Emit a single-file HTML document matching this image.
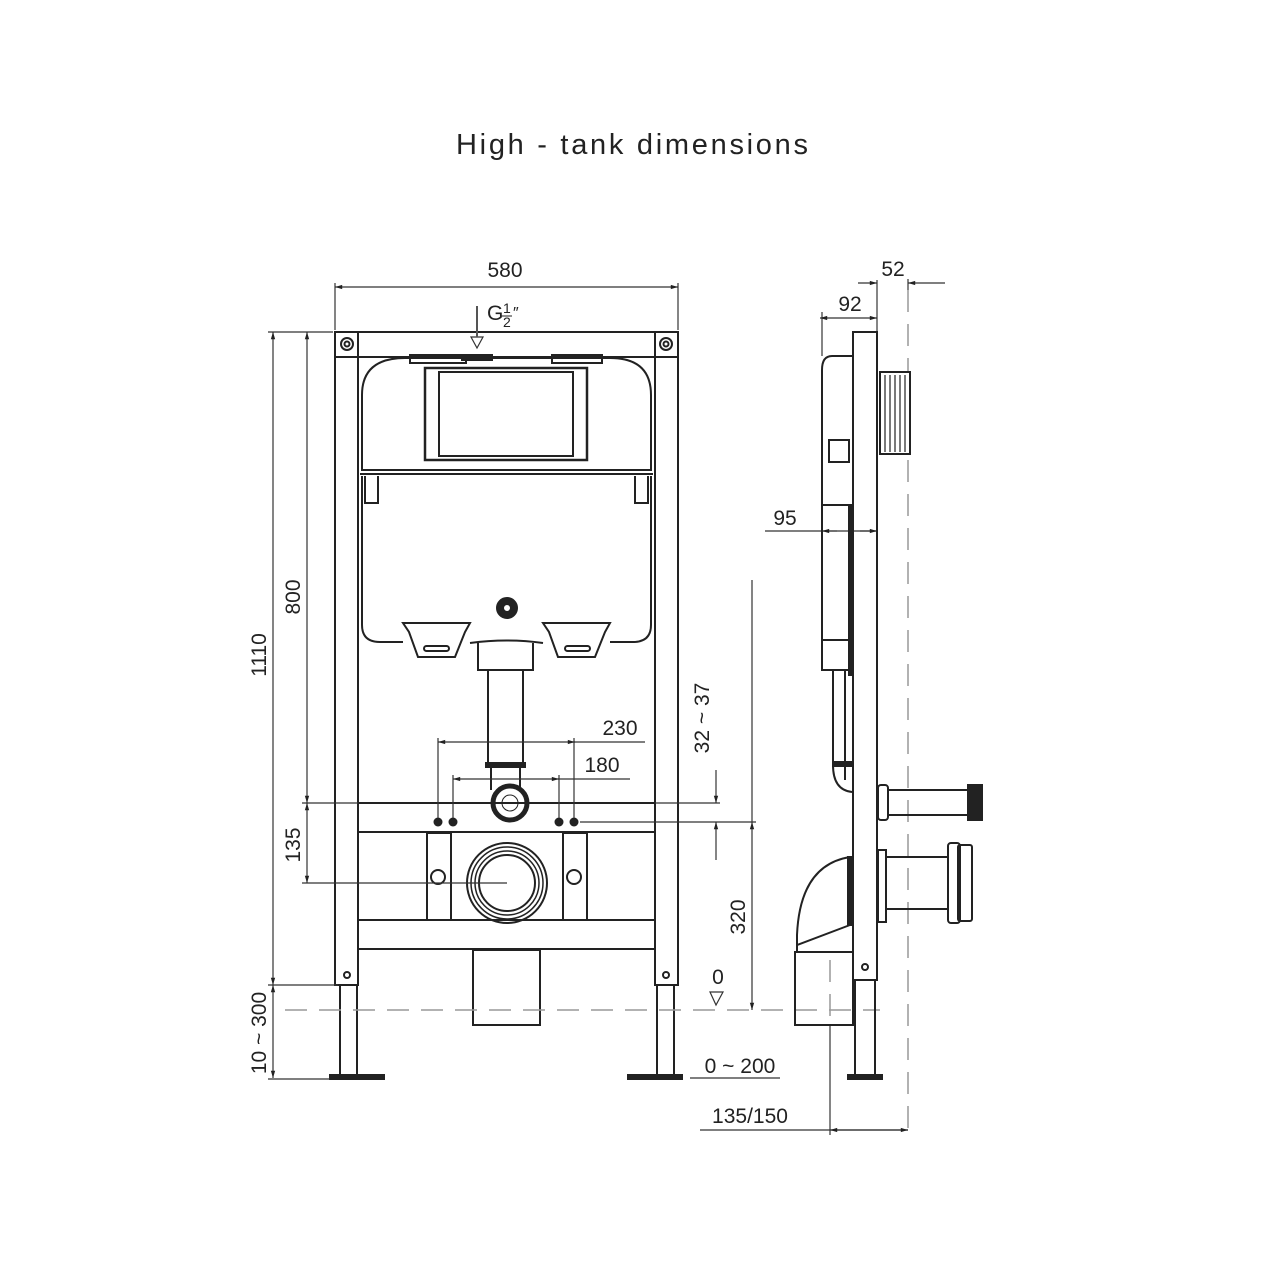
<!DOCTYPE html>
<html><head><style>
html,body{margin:0;padding:0;background:#fff;}
svg{display:block;}
text{font-family:"Liberation Sans",sans-serif;fill:#222;}
</style></head><body>
<svg width="1280" height="1280" viewBox="0 0 1280 1280" xmlns="http://www.w3.org/2000/svg">
<defs>
<marker id="a" viewBox="0 0 10 10" refX="10" refY="5" markerWidth="9" markerHeight="6" orient="auto-start-reverse"><path d="M0,2 L10,5 L0,8z" fill="#222"/></marker>
</defs>
<text x="633" y="154" text-anchor="middle" font-size="29" style="letter-spacing:2px" textLength="354" lengthAdjust="spacing">High - tank dimensions</text>

<g stroke="#222" stroke-width="2" fill="none">
<rect x="335" y="332" width="343" height="25"/>
<rect x="335" y="332" width="23" height="653"/>
<rect x="655" y="332" width="23" height="653"/>
<circle cx="347" cy="344" r="6"/><circle cx="347" cy="344" r="2.5"/>
<circle cx="666" cy="344" r="6"/><circle cx="666" cy="344" r="2.5"/>
<rect x="340" y="985" width="17" height="90"/>
<rect x="657" y="985" width="17" height="90"/>
<rect x="330" y="1075" width="54" height="4" fill="#222"/>
<rect x="628" y="1075" width="54" height="4" fill="#222"/>
<circle cx="347" cy="975" r="3"/><circle cx="666" cy="975" r="3"/>
<path d="M362,470 V395 Q362,358 405,358 H610 Q651,358 651,395 V470 Z"/>
<line x1="360" y1="474" x2="653" y2="474"/>
<path d="M362,476 V625 Q362,642 380,642 H403 M610,642 H633 Q651,642 651,625 V476"/>
<path d="M365,476 V503 H378 V476 M648,476 V503 H635 V476"/>
<rect x="425" y="368" width="162" height="92" stroke-width="2.5"/>
<rect x="439" y="372" width="134" height="84"/>
<rect x="410" y="355" width="56" height="8"/><rect x="552" y="355" width="50" height="8"/>
<rect x="462" y="355" width="30" height="5" fill="#222"/>
<circle cx="507" cy="608" r="10" fill="#222"/><circle cx="507" cy="608" r="4" fill="#fff"/>
<path d="M403,623 H470 L465,632 L455,657 H418 L409,632 Z"/>
<path d="M543,623 H610 L605,632 L595,657 H558 L549,632 Z"/>
<rect x="424" y="646" width="25" height="5" rx="2.5"/><rect x="565" y="646" width="25" height="5" rx="2.5"/>
<path d="M470,643 Q507,638 543,643 M478,643 V670 H533 V643"/>
<rect x="488" y="670" width="35" height="95"/>
<rect x="486" y="763" width="39" height="4" fill="#222"/>
<path d="M491,767 V790 M520,767 V790"/>
<circle cx="510" cy="803" r="17" stroke-width="5"/>
<circle cx="510" cy="803" r="8" stroke-width="1"/>
<line x1="358" y1="803" x2="655" y2="803"/>
<line x1="358" y1="832" x2="655" y2="832"/>
<line x1="358" y1="920" x2="655" y2="920"/>
<line x1="358" y1="949" x2="655" y2="949"/>
<rect x="427" y="833" width="24" height="87"/><rect x="563" y="833" width="24" height="87"/>
<circle cx="438" cy="877" r="7"/><circle cx="574" cy="877" r="7"/>
<circle cx="507" cy="883" r="40" stroke-width="2"/>
<circle cx="507" cy="883" r="36" stroke-width="1.5"/>
<circle cx="507" cy="883" r="32" stroke-width="1.5"/>
<circle cx="507" cy="883" r="28" stroke-width="2"/>
<rect x="473" y="950" width="67" height="75"/>
</g>
<g fill="#222"><circle cx="438" cy="822" r="4.5"/><circle cx="453" cy="822" r="4.5"/><circle cx="559" cy="822" r="4.5"/><circle cx="574" cy="822" r="4.5"/></g>

<g stroke="#333" stroke-width="1.2" fill="none">
<line x1="335" y1="283" x2="335" y2="330"/><line x1="678" y1="283" x2="678" y2="330"/>
<line x1="335" y1="287" x2="678" y2="287" marker-start="url(#a)" marker-end="url(#a)"/>
<line x1="268" y1="332" x2="333" y2="332"/>
<line x1="273" y1="332" x2="273" y2="985" marker-start="url(#a)" marker-end="url(#a)"/>
<line x1="268" y1="985" x2="338" y2="985"/>
<line x1="273" y1="985" x2="273" y2="1078" marker-start="url(#a)" marker-end="url(#a)"/>
<line x1="268" y1="1079" x2="330" y2="1079"/>
<line x1="307" y1="332" x2="307" y2="803" marker-start="url(#a)" marker-end="url(#a)"/>
<line x1="302" y1="803" x2="358" y2="803"/>
<line x1="307" y1="803" x2="307" y2="883" marker-start="url(#a)" marker-end="url(#a)"/>
<line x1="302" y1="883" x2="507" y2="883"/>
<line x1="438" y1="738" x2="438" y2="818"/><line x1="574" y1="738" x2="574" y2="818"/>
<line x1="453" y1="775" x2="453" y2="818"/><line x1="559" y1="775" x2="559" y2="818"/>
<line x1="438" y1="742" x2="645" y2="742" marker-start="url(#a)"/>
<line x1="574" y1="742" x2="575" y2="742" marker-end="url(#a)"/>
<line x1="453" y1="779" x2="630" y2="779" marker-start="url(#a)"/>
<line x1="558" y1="779" x2="559" y2="779" marker-end="url(#a)"/>
<line x1="655" y1="803" x2="720" y2="803"/>
<line x1="580" y1="822" x2="756" y2="822"/>
<line x1="716" y1="770" x2="716" y2="803" marker-end="url(#a)"/>
<line x1="716" y1="860" x2="716" y2="822" marker-end="url(#a)"/>
<line x1="752" y1="580" x2="752" y2="822"/>
<line x1="752" y1="822" x2="752" y2="1010" marker-start="url(#a)" marker-end="url(#a)"/>
<line x1="690" y1="1078" x2="780" y2="1078"/>
<line x1="700" y1="1130" x2="908" y2="1130"/>
<line x1="830" y1="1130" x2="908" y2="1130" marker-start="url(#a)" marker-end="url(#a)"/>
<line x1="830" y1="1025" x2="830" y2="1135"/>
<line x1="822" y1="312" x2="822" y2="356"/><line x1="877" y1="280" x2="877" y2="332"/>
<line x1="820" y1="318" x2="877" y2="318" marker-start="url(#a)" marker-end="url(#a)"/>
<line x1="908" y1="279" x2="908" y2="290"/>
<line x1="858" y1="283" x2="877" y2="283" marker-end="url(#a)"/>
<line x1="945" y1="283" x2="908" y2="283" marker-end="url(#a)"/>
<line x1="765" y1="531" x2="877" y2="531"/>
<line x1="822" y1="531" x2="837" y2="531" marker-start="url(#a)"/>
<line x1="860" y1="531" x2="877" y2="531" marker-end="url(#a)"/>
</g>
<path d="M710,992 H723 L716,1005 Z" fill="none" stroke="#333" stroke-width="1.2"/>
<path d="M471,337 H483 L477,348 Z" fill="none" stroke="#333" stroke-width="1.2"/>
<line x1="477" y1="306" x2="477" y2="337" stroke="#555" stroke-width="2"/>
<g stroke="#999" stroke-width="1.5" stroke-dasharray="22,12" fill="none">
<line x1="285" y1="1010" x2="880" y2="1010"/>
<line x1="908" y1="290" x2="908" y2="1135"/>
<line x1="830" y1="960" x2="830" y2="1025"/>
</g>

<g stroke="#222" stroke-width="2" fill="none">
<rect x="853" y="332" width="24" height="648"/>
<path d="M852,356 H832 Q822,356 822,370 V670 H852"/>
<line x1="822" y1="505" x2="852" y2="505"/>
<line x1="822" y1="640" x2="852" y2="640"/>
<rect x="849" y="505" width="4" height="170" fill="#222"/>
<rect x="829" y="440" width="20" height="22"/>
<path d="M833,670 V765 Q833,790 852,792 M845,670 V780"/>
<rect x="833" y="762" width="20" height="4" fill="#222"/>
<rect x="880" y="372" width="30" height="82" fill="#fff"/>
<g stroke-width="1.2"><line x1="885" y1="375" x2="885" y2="452"/><line x1="890" y1="375" x2="890" y2="452"/><line x1="895" y1="375" x2="895" y2="452"/><line x1="900" y1="375" x2="900" y2="452"/><line x1="905" y1="375" x2="905" y2="452"/></g>
<rect x="878" y="785" width="10" height="35" rx="3"/>
<path d="M888,790 H970 M888,815 H970"/>
<rect x="968" y="785" width="14" height="35" fill="#222"/>
<rect x="878" y="850" width="8" height="72"/>
<path d="M886,857 H948 M886,909 H948"/>
<rect x="948" y="843" width="12" height="80" rx="3"/>
<rect x="958" y="845" width="14" height="76" rx="2"/>
<path d="M850,857 Q800,865 797,935 V945 L850,925"/>
<rect x="848" y="857" width="5" height="68" fill="#222"/>
<rect x="795" y="952" width="58" height="73"/>
<line x1="797" y1="945" x2="797" y2="952"/>
<rect x="855" y="980" width="20" height="95"/>
<circle cx="865" cy="967" r="3"/>
<rect x="848" y="1075" width="34" height="4" fill="#222"/>
</g>

<g font-size="21">
<text x="505" y="277" text-anchor="middle">580</text>
<text x="487" y="320">G</text>
<text x="503" y="313" font-size="14">1</text>
<line x1="501" y1="316" x2="512" y2="316" stroke="#222" stroke-width="1"/>
<text x="503" y="327" font-size="14">2</text>
<text x="513" y="318" font-size="16">″</text>
<text transform="translate(266,655) rotate(-90)" text-anchor="middle">1110</text>
<text transform="translate(300,597) rotate(-90)" text-anchor="middle">800</text>
<text transform="translate(300,845) rotate(-90)" text-anchor="middle">135</text>
<text transform="translate(266,1033) rotate(-90)" text-anchor="middle">10 ~ 300</text>
<text transform="translate(709,718) rotate(-90)" text-anchor="middle">32 ~ 37</text>
<text transform="translate(745,917) rotate(-90)" text-anchor="middle">320</text>
<text x="620" y="735" text-anchor="middle">230</text>
<text x="602" y="772" text-anchor="middle">180</text>
<text x="718" y="984" text-anchor="middle">0</text>
<text x="740" y="1073" text-anchor="middle">0 ~ 200</text>
<text x="750" y="1123" text-anchor="middle">135/150</text>
<text x="893" y="276" text-anchor="middle">52</text>
<text x="850" y="311" text-anchor="middle">92</text>
<text x="785" y="525" text-anchor="middle">95</text>
</g>
</svg>
</body></html>
